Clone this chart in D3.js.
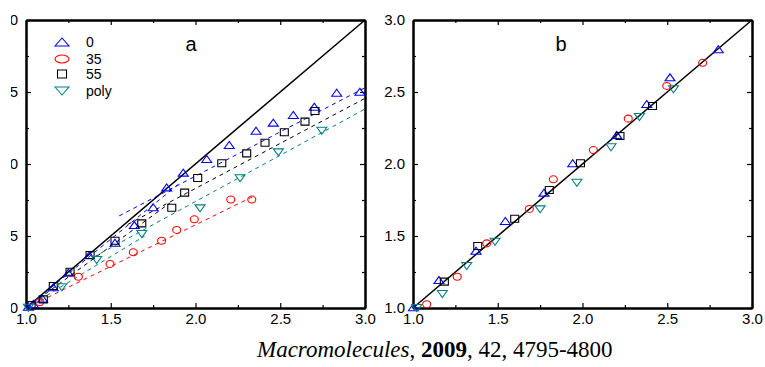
<!DOCTYPE html>
<html><head><meta charset="utf-8">
<script src="https://cdn.jsdelivr.net/npm/d3@7"></script>
<style>body{margin:0;background:#fff}svg{display:block}</style>
</head><body>
<script>
// ---- data ----
const seriesNames = ["0", "35", "55", "poly"];
const seriesColors = ["#0000ff", "#ff0000", "#000000", "#008080"];
const seriesShapes = ["up", "circle", "square", "down"];
const majorTicks = [1.0, 1.5, 2.0, 2.5, 3.0];
const minorTicks = [1.25, 1.75, 2.25, 2.75];

// panel a
const a0 = [[1.014,1.009],[1.043,1.028],[1.098,1.065],[1.161,1.144],[1.25,1.245],[1.373,1.366],[1.525,1.453],[1.639,1.576],[1.75,1.70],[1.83,1.838],[1.928,1.94],[2.066,2.035],[2.199,2.132],[2.357,2.231],[2.459,2.287],[2.577,2.34],[2.701,2.398],[2.833,2.495],[2.97,2.502]];
const a35 = [[1.08,1.04],[1.309,1.217],[1.496,1.306],[1.633,1.387],[1.8,1.467],[1.889,1.542],[1.993,1.616],[2.208,1.753],[2.332,1.753]];
const a55 = [[1.03,1.02],[1.102,1.06],[1.161,1.153],[1.26,1.252],[1.378,1.368],[1.525,1.467],[1.683,1.588],[1.86,1.696],[1.936,1.801],[2.013,1.903],[2.155,2.005],[2.302,2.074],[2.41,2.148],[2.524,2.22],[2.646,2.294],[2.705,2.368]];
const aPoly = [[1.014,1.002],[1.211,1.144],[1.417,1.333],[1.683,1.514],[2.027,1.692],[2.263,1.901],[2.489,2.081],[2.745,2.231]];
// dashed fit segments (x1,y1,x2,y2) per series
const fit0 = [[1.0,1.0,1.9,1.86],[1.55,1.64,3.0,2.53]];
const fit35 = [[1.0,1.0,2.35,1.78]];
const fit55 = [[1.0,1.0,1.85,1.73],[1.6,1.58,3.0,2.456]];
const fitPoly = [[1.0,1.0,1.7,1.5],[1.4,1.354,3.0,2.382]];

// panel b
const b0 = [[1.002,1.005],[1.153,1.194],[1.372,1.398],[1.545,1.604],[1.773,1.801],[1.942,2.005],[2.202,2.201],[2.379,2.417],[2.516,2.602],[2.801,2.797]];
const b35 = [[1.081,1.026],[1.261,1.217],[1.435,1.449],[1.686,1.688],[1.828,1.894],[2.064,2.097],[2.27,2.315],[2.497,2.542],[2.709,2.703]];
const b55 = [[1.185,1.183],[1.382,1.431],[1.6,1.62],[1.804,1.819],[1.988,2.005],[2.221,2.194],[2.413,2.403]];
const bPoly = [[1.022,1.0],[1.173,1.097],[1.317,1.292],[1.484,1.46],[1.75,1.685],[1.967,1.87],[2.168,2.116],[2.336,2.326],[2.537,2.519]];

const W = 765, H = 367;
const svg = d3.select("body").append("svg").attr("width", W).attr("height", H)
  .style("font-family", "Liberation Sans, Arial, sans-serif");

function markerPath(shape, w, h) {
  const hw = w / 2, hh = h / 2;
  if (shape === "up") return `M${-hw},${hh}L0,${-hh}L${hw},${hh}Z`;
  if (shape === "down") return `M${-hw},${-hh}L0,${hh}L${hw},${-hh}Z`;
  if (shape === "square") return `M${-hw},${-hh}H${hw}V${hh}H${-hw}Z`;
  return `M${-hw},0A${hw},${hh} 0 1,0 ${hw},0A${hw},${hh} 0 1,0 ${-hw},0Z`;
}
const mSize = {up:[10,7], down:[10,7], square:[8,7], circle:[8,7]};

function panel(x0, x1, label, labelX, series, fits, clipLabels) {
  const y0 = 20, y1 = 308;
  const x = d3.scaleLinear().domain([1, 3]).range([x0, x1]);
  const y = d3.scaleLinear().domain([1, 3]).range([y1, y0]);
  const g = svg.append("g");
  const fmt = d3.format(".1f");
  const style = sel => { sel.select(".domain").attr("stroke-width", 2); sel.selectAll(".tick line").attr("stroke-width", 1.2); sel.selectAll("text").attr("font-size", 15).attr("fill", "#000").attr("font-family", "Liberation Sans, Arial, sans-serif"); };
  g.append("g").attr("transform", `translate(0,${y1})`)
    .call(d3.axisBottom(x).tickValues(majorTicks).tickFormat(fmt).tickSizeInner(-5).tickSizeOuter(0).tickPadding(5)).call(style);
  g.append("g").attr("transform", `translate(0,${y1})`)
    .call(d3.axisBottom(x).tickValues(minorTicks).tickFormat("").tickSizeInner(-3).tickSizeOuter(0)).call(style);
  g.append("g").attr("transform", `translate(0,${y0})`)
    .call(d3.axisTop(x).tickValues(majorTicks).tickFormat("").tickSizeInner(-5).tickSizeOuter(0)).call(style);
  g.append("g").attr("transform", `translate(0,${y0})`)
    .call(d3.axisTop(x).tickValues(minorTicks).tickFormat("").tickSizeInner(-3).tickSizeOuter(0)).call(style);
  const la = g.append("g").attr("transform", `translate(${x0},0)`)
    .call(d3.axisLeft(y).tickValues(majorTicks).tickFormat(fmt).tickSizeInner(-5).tickSizeOuter(0).tickPadding(8)).call(style);
  if (clipLabels) {
    svg.append("clipPath").attr("id", "lclip").append("rect").attr("x", 11).attr("y", 0).attr("width", 40).attr("height", H);
    const lab = svg.append("g").attr("clip-path", "url(#lclip)");
    la.selectAll(".tick text").each(function(d){
      lab.append("text").attr("x", x0 - 8).attr("y", y(d)).attr("dy", "0.32em")
        .attr("text-anchor", "end").attr("font-size", 15).text(fmt(d));
      d3.select(this).remove();
    });
  }
  g.append("g").attr("transform", `translate(${x0},0)`)
    .call(d3.axisLeft(y).tickValues(minorTicks).tickFormat("").tickSizeInner(-3).tickSizeOuter(0)).call(style);
  g.append("g").attr("transform", `translate(${x1},0)`)
    .call(d3.axisRight(y).tickValues(majorTicks).tickFormat("").tickSizeInner(-5).tickSizeOuter(0)).call(style);
  g.append("g").attr("transform", `translate(${x1},0)`)
    .call(d3.axisRight(y).tickValues(minorTicks).tickFormat("").tickSizeInner(-3).tickSizeOuter(0)).call(style);

  g.append("line").attr("x1", x(1)).attr("y1", y(1)).attr("x2", x(3)).attr("y2", y(3))
    .attr("stroke", "#000").attr("stroke-width", 1.5);

  fits.forEach((segs, i) => {
    if (!segs) return;
    g.selectAll(null).data(segs).enter().append("line")
      .attr("x1", d => x(d[0])).attr("y1", d => y(d[1])).attr("x2", d => x(d[2])).attr("y2", d => y(d[3]))
      .attr("stroke", seriesColors[i]).attr("stroke-width", 1).attr("stroke-dasharray", "4,4");
  });
  series.forEach((pts, i) => {
    const sh = seriesShapes[i], [mw, mh] = mSize[sh];
    g.selectAll(null).data(pts).enter().append("path")
      .attr("transform", d => `translate(${x(d[0])},${y(d[1])})`)
      .attr("d", markerPath(sh, mw, mh))
      .attr("fill", "none").attr("stroke", seriesColors[i]).attr("stroke-width", 1.1);
  });
  g.append("text").attr("x", labelX).attr("y", 51).attr("text-anchor", "middle")
    .attr("font-size", 20).text(label);
}

panel(26, 365, "a", 191, [a0, a35, a55, aPoly], [fit0, fit35, fit55, fitPoly], true);
panel(413, 752, "b", 561, [b0, b35, b55, bPoly], [null, null, null, null], false);

const leg = svg.append("g");
const legY = [42, 59, 74, 91];
seriesNames.forEach((n, i) => {
  leg.append("path").attr("transform", `translate(62,${legY[i]})`)
    .attr("d", markerPath(seriesShapes[i], i === 2 ? 9 : 14, 8))
    .attr("fill", "none").attr("stroke", seriesColors[i]).attr("stroke-width", 1.1);
  leg.append("text").attr("x", 86).attr("y", legY[i] + 5).attr("font-size", 14).text(n);
});

const cit = svg.append("text").attr("x", 257).attr("y", 357)
  .attr("font-family", "Liberation Serif, Times New Roman, serif").attr("font-size", 23);
cit.append("tspan").attr("font-style", "italic").text("Macromolecules");
cit.append("tspan").text(", ");
cit.append("tspan").attr("font-weight", "bold").text("2009");
cit.append("tspan").text(", 42, 4795-4800");
</script>
</body></html>
